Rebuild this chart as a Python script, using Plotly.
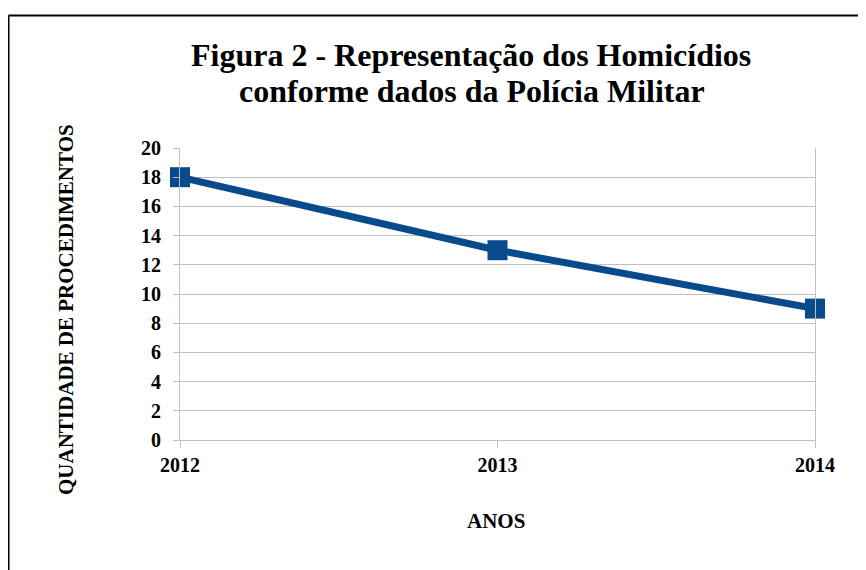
import plotly.graph_objects as go

anos = ["2012", "2013", "2014"]
procedimentos = [18, 13, 9]
y_ticks = list(range(0, 21, 2))

W, H = 866, 570
OFF = 8  # page body margin offset in the screenshot
# target screen pixels -> figure pixels
L, R, T, B = 180 - OFF, 815 - OFF, 148 - OFF, 440 - OFF

serif = "Liberation Serif, Times New Roman, serif"
BLUE = "#084A8B"
GRID = "#BFBFBF"

fig = go.Figure()
fig.add_trace(go.Scatter(
    x=anos, y=procedimentos, mode="lines+markers",
    line=dict(color=BLUE, width=7),
    marker=dict(symbol="square", size=20, color=BLUE),
    showlegend=False, cliponaxis=False,
))


def px_x(p):
    return (p - OFF - L) / (R - L)


def px_y(p):
    return (B - (p - OFF)) / (B - T)


tickfont = dict(size=20, family=serif, color="black", weight="bold")

fig.update_layout(
    width=W, height=H,
    margin=dict(l=L, r=W - R, t=T, b=H - B),
    paper_bgcolor="white", plot_bgcolor="white",
    font=dict(family=serif, color="black"),
    xaxis=dict(
        type="category", range=[0, 2], showgrid=False,
        showline=True, linecolor=GRID, linewidth=1,
        ticks="outside", ticklen=7, tickcolor=GRID,
        tickfont=tickfont,
        zeroline=False, fixedrange=True,
    ),
    yaxis=dict(
        range=[0, 20], tickvals=y_ticks, showgrid=True, gridcolor=GRID, gridwidth=1,
        showline=True, linecolor=GRID, linewidth=1, mirror=True,
        ticks="outside", ticklen=6, tickcolor=GRID,
        tickfont=tickfont, ticklabelstandoff=8,
        zeroline=False, fixedrange=True,
    ),
    annotations=[
        dict(text="Figura 2 - Representação dos Homicídios", xref="paper", yref="paper",
             x=px_x(471), y=px_y(55), xanchor="center", yanchor="middle", showarrow=False,
             font=dict(size=32, family=serif, color="black", weight="bold")),
        dict(text="conforme dados da Polícia Militar", xref="paper", yref="paper",
             x=px_x(472), y=px_y(91), xanchor="center", yanchor="middle", showarrow=False,
             font=dict(size=32, family=serif, color="black", weight="bold")),
        dict(text="QUANTIDADE DE PROCEDIMENTOS", xref="paper", yref="paper",
             x=px_x(66), y=px_y(310), xanchor="center", yanchor="middle", showarrow=False,
             textangle=-90,
             font=dict(size=21, family=serif, color="black", weight="bold")),
        dict(text="ANOS", xref="paper", yref="paper",
             x=px_x(496), y=px_y(521), xanchor="center", yanchor="middle", showarrow=False,
             font=dict(size=21, family=serif, color="black", weight="bold")),
    ],
    shapes=[
        dict(type="line", xref="paper", yref="paper", x0=px_x(8.5), x1=px_x(900), y0=px_y(15.5), y1=px_y(15.5),
             line=dict(color="black", width=2)),
        dict(type="line", xref="paper", yref="paper", x0=px_x(8.5), x1=px_x(8.5), y0=px_y(15.5), y1=px_y(600),
             line=dict(color="black", width=2)),
    ],
)

fig.write_html("out.html")
